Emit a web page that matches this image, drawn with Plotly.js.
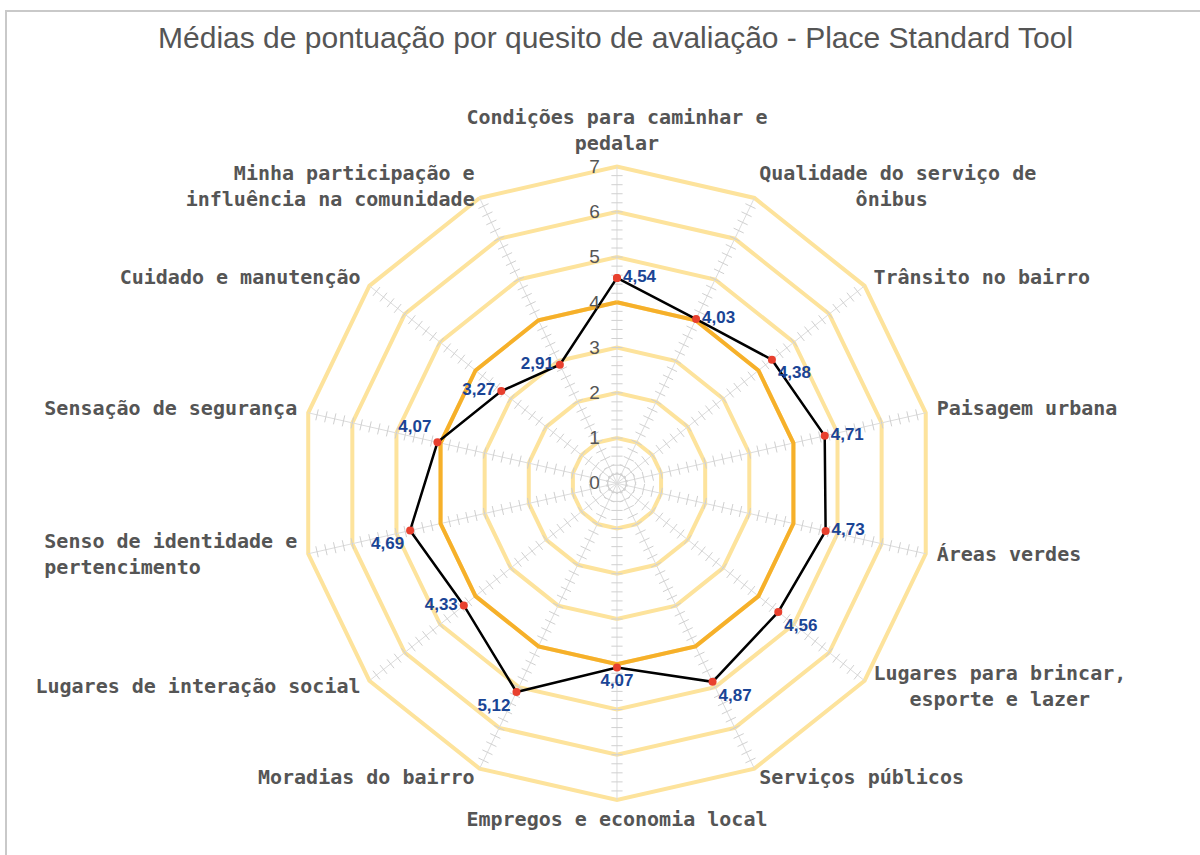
<!DOCTYPE html>
<html>
<head>
<meta charset="utf-8">
<script src="https://cdn.plot.ly/plotly-3.0.1.min.js"></script>
<style>
  body { margin: 0; overflow: hidden; background: #fff; }
  #plot { position: absolute; left: 0; top: 0; width: 1200px; height: 855px; }
  #frame { position: absolute; left: 5px; top: 10px; width: 1300px; height: 1000px;
           border-left: 2px solid #c9c9c9; border-top: 2px solid #c9c9c9; pointer-events: none; }
</style>
</head>
<body>
<div id="plot"></div>
<div id="frame"></div>
<script>
const sp = n => '\u00a0'.repeat(n);

// quesitos, clockwise from the top
const categories = [
  "Condições para caminhar e pedalar",
  "Qualidade do serviço de ônibus",
  "Trânsito no bairro",
  "Paisagem urbana",
  "Áreas verdes",
  "Lugares para brincar, esporte e lazer",
  "Serviços públicos",
  "Empregos e economia local",
  "Moradias do bairro",
  "Lugares de interação social",
  "Senso de identidade e pertencimento",
  "Sensação de segurança",
  "Cuidado e manutenção",
  "Minha participação e influência na comunidade"
];
// how the names are printed round the chart
const categoryLabels = [
  "Condições para caminhar e<br>pedalar",
  "Qualidade do serviço de<br>" + sp(8) + "ônibus",
  "Trânsito no bairro",
  "Paisagem urbana",
  "Áreas verdes",
  "Lugares para brincar,<br>" + sp(3) + "esporte e lazer",
  "Serviços públicos",
  "Empregos e economia local",
  "Moradias do bairro",
  "Lugares de interação social",
  "Senso de identidade e<br>pertencimento" + sp(8),
  "Sensação de segurança",
  "Cuidado e manutenção",
  "Minha participação e<br>influência na comunidade"
];
const categoryLabelPositions = [
  "top center", "middle right", "middle right", "middle right", "middle right",
  "middle right", "middle right", "bottom center", "middle left", "middle left",
  "middle left", "middle left", "middle left", "middle left"
];
const scores = [4.54, 4.03, 4.38, 4.71, 4.73, 4.56, 4.87, 4.07, 5.12, 4.33, 4.69, 4.07, 3.27, 2.91];
const referenceLevel = 4;
const labelPositions = [
  "middle right", "middle right", "bottom right", "middle right", "middle right",
  "bottom right", "bottom right", "bottom center", "bottom left", "middle left",
  "bottom left", "top left", "middle left", "middle left"
];
const radialTicks = [0, 1, 2, 3, 4, 5, 6, 7];

const rMax = 7;          // outer ring
const rRange = 7.6;      // room for the names
const labelRadius = 7.25;

// closed polygons
const thetaClosed = categories.concat([categories[0]]);
const scoresClosed = scores.concat([scores[0]]);
const refClosed = categories.map(() => referenceLevel).concat([referenceLevel]);

// spokes from the centre to the outer ring
const spokeR = [];
const spokeTheta = [];
categories.forEach(c => {
  spokeR.push(0, rMax, null);
  spokeTheta.push(c, c, null);
});

// little cross ticks along every spoke (every 0.2)
const tickTheta = [];
const tickR = [];
const tickAngle = [];
categories.forEach((c, i) => {
  for (let k = 1; k < 35; k++) {
    tickTheta.push(c);
    tickR.push(k * 0.2);
    tickAngle.push(i * 360 / categories.length);
  }
});

const spokeTrace = {
  type: 'scatterpolar', mode: 'lines',
  r: spokeR, theta: spokeTheta, connectgaps: false,
  line: { color: '#dcdcdc', width: 1 },
  hoverinfo: 'skip', showlegend: false
};

const tickTrace = {
  type: 'scatterpolar', mode: 'markers',
  r: tickR, theta: tickTheta,
  marker: { symbol: 'line-ew', size: 8, angle: tickAngle, line: { color: '#d0d0d0', width: 1 } },
  hoverinfo: 'skip', showlegend: false
};

const refTrace = {
  type: 'scatterpolar', mode: 'lines',
  r: refClosed, theta: thetaClosed,
  line: { color: '#f6b02a', width: 4 },
  hoverinfo: 'skip', showlegend: false
};

const scoreTrace = {
  type: 'scatterpolar', mode: 'lines+markers+text',
  r: scoresClosed, theta: thetaClosed,
  line: { color: '#000000', width: 2.5 },
  marker: { color: '#e8402e', size: 8 },
  text: scores.map(v => v.toFixed(2).replace('.', ',')).concat(['']),
  textposition: labelPositions.concat(['middle right']),
  textfont: { family: 'Liberation Sans, Arial, sans-serif', size: 17, color: '#1a4495', weight: 'bold' },
  showlegend: false
};

const nameTrace = {
  type: 'scatterpolar', mode: 'text',
  r: categories.map(() => labelRadius), theta: categories,
  text: categoryLabels,
  textposition: categoryLabelPositions,
  textfont: { family: 'DejaVu Sans Mono, monospace', size: 20, color: '#555555', weight: 'bold' },
  cliponaxis: false,
  hoverinfo: 'skip', showlegend: false
};

const layout = {
  width: 1200, height: 855,
  margin: { l: 0, r: 0, t: 0, b: 0 },
  paper_bgcolor: '#ffffff',
  showlegend: false,
  title: {
    text: 'Médias de pontuação por quesito de avaliação - Place Standard Tool',
    font: { family: 'Liberation Sans, Arial, sans-serif', size: 30, color: '#555555' },
    x: 0.513, xanchor: 'center', y: 0.9556, yanchor: 'middle', yref: 'container'
  },
  polar: {
    domain: { x: [0.2276, 0.8007], y: [0.0326, 0.8369] },
    gridshape: 'linear',
    bgcolor: 'rgba(0,0,0,0)',
    radialaxis: {
      range: [0, rRange], tickvals: radialTicks, angle: 90, side: 'counterclockwise', tickangle: 90,
      showline: false, ticks: 'outside', ticklen: 10, tickcolor: 'rgba(0,0,0,0)',
      gridcolor: '#fde39c', gridwidth: 4,
      tickfont: { family: 'Liberation Sans, Arial, sans-serif', size: 19, color: '#555555' }
    },
    angularaxis: {
      direction: 'clockwise', rotation: 90,
      showline: false, showgrid: false,
      ticks: '', showticklabels: false
    }
  }
};

Plotly.newPlot('plot', [spokeTrace, tickTrace, refTrace, scoreTrace, nameTrace], layout, { displayModeBar: false });
</script>
</body>
</html>
